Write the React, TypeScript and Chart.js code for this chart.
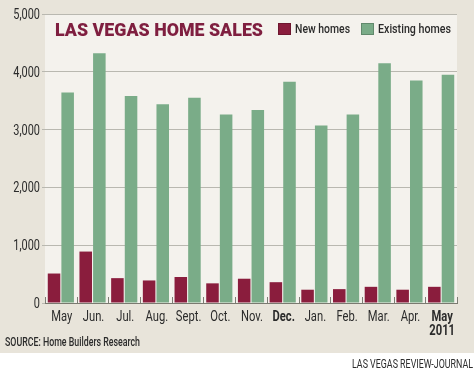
import React, { useEffect, useRef } from "react";
import { Chart, registerables } from "chart.js";
Chart.register(...registerables);

const categories = [["May"], ["Jun."], ["Jul."], ["Aug."], ["Sept."], ["Oct."], ["Nov."], ["Dec."], ["Jan."], ["Feb."], ["Mar."], ["Apr."], ["May", "2011"]];
const boldIndexes = [7, 12];
const newHomes = [510, 890, 430, 390, 450, 340, 420, 360, 230, 240, 280, 230, 280];
const existingHomes = [3640, 4320, 3580, 3440, 3550, 3260, 3340, 3830, 3070, 3260, 4150, 3850, 3950];
const seriesNames = ["New homes", "Existing homes"];
const yTickValues = [0, 1000, 2000, 3000, 4000, 5000];
const chartTitle = "LAS VEGAS HOME SALES";
const sourceText = "SOURCE: Home Builders Research";
const creditText = "LAS VEGAS REVIEW-JOURNAL";

const FONT = "Roboto, 'Open Sans', sans-serif";
const MAROON = "#8a1d3d";
const GREEN = "#7aac88";
const TITLE = "#7f1f40";
const TEXT = "#2b2b2b";
const SQUEEZE = 0.8;

function cText(ctx: any, text: string, x: number, y: number, align: "left" | "right" | "center", font: string, color: string, sx = SQUEEZE, fitWidth = 0) {
  ctx.save();
  ctx.font = font;
  ctx.fillStyle = color;
  ctx.textBaseline = "alphabetic";
  const raw = ctx.measureText(text).width;
  const s = fitWidth > 0 ? fitWidth / raw : sx;
  const w = raw * s;
  let left = x;
  if (align === "right") left = x - w;
  else if (align === "center") left = x - w / 2;
  ctx.translate(left, y);
  ctx.scale(s, 1);
  ctx.textAlign = "left";
  ctx.fillText(text, 0, 0);
  ctx.restore();
  return w;
}

const decorPlugin = {
  id: "decor",
  beforeDraw(chart: any) {
    const { ctx, chartArea } = chart;
    ctx.save();
    ctx.fillStyle = "#f4f2ed";
    ctx.fillRect(chartArea.left, chartArea.top, chartArea.right - chartArea.left, chartArea.bottom - chartArea.top);
    ctx.restore();
  },
  afterDraw(chart: any) {
    const { ctx, chartArea } = chart;
    const xs = chart.scales.x;
    const ys = chart.scales.y;
    ctx.save();
    ctx.strokeStyle = "#7d7d74";
    ctx.lineWidth = 1;
    const n = categories.length;
    const w = (chartArea.right - chartArea.left) / n;
    for (let i = 0; i <= n; i++) {
      const x = Math.round(chartArea.left + i * w) + 0.5;
      ctx.beginPath();
      ctx.moveTo(x, chartArea.bottom - 6);
      ctx.lineTo(x, chartArea.bottom);
      ctx.stroke();
    }
    ctx.restore();
    // y tick labels
    yTickValues.forEach((v) => {
      const y = ys.getPixelForValue(v);
      cText(ctx, v.toLocaleString("en-US"), 40, y + 5, "right", `14px ${FONT}`, TEXT, 0.78);
    });
    // x tick labels
    categories.forEach((lines, i) => {
      const x = xs.getPixelForValue(i);
      const weight = boldIndexes.includes(i) ? "bold " : "";
      lines.forEach((t, j) => {
        cText(ctx, t, x + 1, 321 + j * 14, "center", `${weight}14px ${FONT}`, TEXT, 0.8);
      });
    });
    // title
    cText(ctx, chartTitle, 55, 35.5, "left", `900 19px ${FONT}`, TITLE, 1, 208);
    // legend
    const ds = chart.data.datasets;
    const legendX = [278, 361];
    const legendW = [55, 73];
    ds.forEach((d: any, i: number) => {
      const lx = legendX[i];
      ctx.save();
      ctx.fillStyle = d.backgroundColor;
      ctx.fillRect(lx, 23, 13, 12);
      ctx.strokeStyle = "rgba(0,0,0,0.2)";
      ctx.strokeRect(lx + 0.5, 23.5, 12, 11);
      ctx.restore();
      cText(ctx, seriesNames[i], lx + 17, 33, "left", `500 13px ${FONT}`, TEXT, 1, legendW[i]);
    });
    // source and credit
    cText(ctx, sourceText, 5, 346, "left", `500 13px ${FONT}`, TEXT, 1, 135);
    cText(ctx, creditText, 473, 368, "right", `12px ${FONT}`, TEXT, 1, 121);
  },
};

export default function App() {
  const ref = useRef<HTMLCanvasElement>(null);
  useEffect(() => {
    document.body.style.margin = "0";
    const chart = new Chart(ref.current!, {
      type: "bar",
      data: {
        labels: categories,
        datasets: [
          { label: seriesNames[0], data: newHomes, backgroundColor: MAROON },
          { label: seriesNames[1], data: existingHomes, backgroundColor: GREEN },
        ],
      },
      options: {
        animation: false,
        responsive: false,
        maintainAspectRatio: false,
        layout: { padding: { top: 14, right: 17, left: 0, bottom: 0 } },
        datasets: { bar: { categoryPercentage: 0.86, barPercentage: 0.92 } },
        plugins: { legend: { display: false }, title: { display: false }, tooltip: { enabled: false } },
        scales: {
          x: {
            afterFit: (s: any) => { s.height = 68; },
            grid: { display: false },
            border: { display: true, color: "#7a7a70", width: 1 },
            ticks: { display: false },
          },
          y: {
            min: 0,
            max: 5000,
            afterFit: (s: any) => { s.width = 45; },
            border: { display: false },
            grid: { color: "#b9b8b0", tickLength: 3, drawTicks: true },
            ticks: { display: false, stepSize: 1000 },
          },
        },
      },
      plugins: [decorPlugin],
    });
    return () => chart.destroy();
  }, []);
  return (
    <div style={{ width: 474, height: 371, background: "linear-gradient(to bottom, #e8e4da 0px, #e8e4da 353px, #ffffff 353px)" }}>
      <canvas ref={ref} width={474} height={371} style={{ display: "block" }} />
    </div>
  );
}
